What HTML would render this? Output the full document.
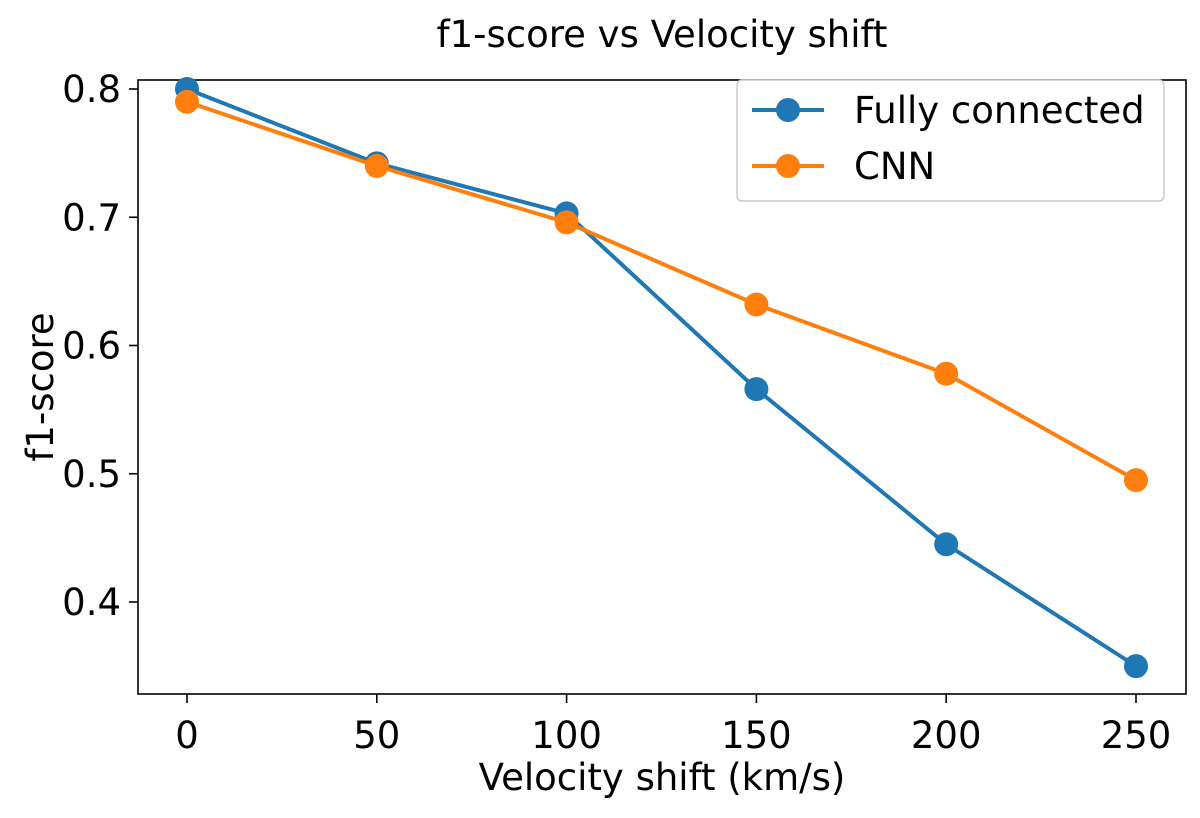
<!DOCTYPE html>
<html><head><meta charset="utf-8"><style>
body{margin:0;background:#fff;}
svg text{font-family:"DejaVu Sans","Liberation Sans",sans-serif;fill:#000;}
</style></head><body>
<svg id="chart" width="1200" height="813">
<g id="plot"></g>
</svg>
<script>
const categories=[0,50,100,150,200,250];
const fcValues=[0.800,0.742,0.703,0.566,0.445,0.350];
const cnnValues=[0.790,0.740,0.696,0.632,0.578,0.495];
const xTicks=[0,50,100,150,200,250];
const yTicks=[0.4,0.5,0.6,0.7,0.8];
const NS='http://www.w3.org/2000/svg';
const svg=document.getElementById('plot');
const L=138,R=1186,T=80,B=694;
function xs(v){return 187+(v-0)*(1136-187)/250;}
function ys(v){return 89+(0.8-v)*(602-89)/0.4;}
function mk(tag,attrs,parent){const e=document.createElementNS(NS,tag);for(const k in attrs)e.setAttribute(k,attrs[k]);(parent||svg).appendChild(e);return e;}
let e;
e=mk('rect',{x:L,y:T,width:R-L,height:B-T,fill:'none',stroke:'#000','stroke-width':1.6});


xTicks.forEach(v=>{
  e=mk('line',{x1:xs(v),x2:xs(v),y1:B,y2:B+9,stroke:'#000','stroke-width':1.6});
  
  
  e=mk('text',{x:xs(v),y:B+54,'text-anchor':'middle','font-size':37});e.textContent=v;
  
  
});
yTicks.forEach(v=>{
  e=mk('line',{x1:L-9,x2:L,y1:ys(v),y2:ys(v),stroke:'#000','stroke-width':1.6});
  
  
  e=mk('text',{x:L-17,y:ys(v)+13,'text-anchor':'end','font-size':37});e.textContent=v.toFixed(1);
  
  
});
function series(vals,color,name){
  const pts=categories.map((c,i)=>xs(c)+','+ys(vals[i])).join(' ');
  e=mk('polyline',{points:pts,fill:'none',stroke:color,'stroke-width':4});
  
  
  categories.forEach((c,i)=>{
    e=mk('circle',{cx:xs(c),cy:ys(vals[i]),r:12,fill:color});
    
    
  });
}
series(fcValues,'#1f77b4','fully-connected');
series(cnnValues,'#ff7f0e','cnn');
e=mk('text',{x:662,y:47,'text-anchor':'middle','font-size':37});e.textContent='f1-score vs Velocity shift';


e=mk('text',{x:662,y:790,'text-anchor':'middle','font-size':37});e.textContent='Velocity shift (km/s)';


e=mk('text',{x:0,y:0,'text-anchor':'middle','font-size':37,transform:'translate(53,387) rotate(-90)'});e.textContent='f1-score';


const lg=mk('g',{});


e=mk('rect',{x:737,y:80,width:427,height:121,rx:5,fill:'#fff',stroke:'#ccc','stroke-width':1.5},lg);


[['Fully connected','#1f77b4',110],['CNN','#ff7f0e',166]].forEach(([t,c,y])=>{
  e=mk('line',{x1:752,x2:824,y1:y,y2:y,stroke:c,'stroke-width':4},lg);
  
  
  e=mk('circle',{cx:788,cy:y,r:12,fill:c},lg);
  
  
  e=mk('text',{x:854,y:y+13,'font-size':37},lg);e.textContent=t;
  
  
});
</script>
</body></html>
